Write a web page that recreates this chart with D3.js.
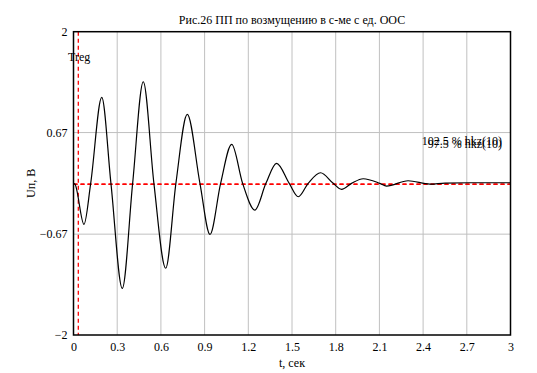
<!DOCTYPE html>
<html>
<head>
<meta charset="utf-8">
<script src="https://cdn.jsdelivr.net/npm/d3@7"></script>
<style>
  body { margin: 0; background: #fff; }
  svg text { font-family: 'Liberation Serif', 'DejaVu Serif', serif !important; font-size: 12px; }
</style>
</head>
<body>
<script>
// values: extrema and zero crossings of the response
const timeVals = [0, 0.01, 0.072, 0.118, 0.194, 0.257, 0.335, 0.406, 0.479, 0.552, 0.633, 0.703,
  0.781, 0.868, 0.937, 1.010, 1.086, 1.161, 1.245, 1.321, 1.394, 1.481, 1.543, 1.611,
  1.696, 1.783, 1.840, 1.909, 1.989, 2.103, 2.149, 2.297, 2.447, 2.55, 2.72, 3.0];
const uVals = [0, -0.01, -0.54, 0, 1.134, 0, -1.385, 0, 1.34, 0, -1.12, 0,
  0.91, 0, -0.673, 0, 0.514, 0, -0.352, 0, 0.264, 0, -0.177, 0,
  0.14, 0, -0.079, 0, 0.061, 0, -0.036, 0.034, -0.01, 0.004, 0.008, 0.008];

const xTicks = [0, 0.3, 0.6, 0.9, 1.2, 1.5, 1.8, 2.1, 2.4, 2.7, 3];
const yTicks = [-2, -0.67, 0.67, 2];
const yTickLabels = ["\u22122", "\u22120.67", "0.67", "2"];

const tReg = 0.033;
const bandVals = [-0.012, -0.012];          // 102.5 % and 97.5 % of hkz(10)
const bandLabels = ["102.5 % hkz(10)", "97.5 % hkz(10)"];

const W = 537, H = 373;
const m = {left: 73.5, right: 26.5, top: 31.7, bottom: 38};

const svg = d3.select("body").append("svg").attr("width", W).attr("height", H);

const x = d3.scaleLinear().domain([0, 3]).range([m.left, W - m.right]);
const y = d3.scaleLinear().domain([-2, 2]).range([H - m.bottom, m.top]);

// grid
svg.append("g").selectAll("line").data(xTicks.slice(1, -1)).join("line")
  .attr("x1", d => x(d)).attr("x2", d => x(d))
  .attr("y1", y(2)).attr("y2", y(-2))
  .attr("stroke", "#c0c0c0").attr("stroke-width", 1);
svg.append("g").selectAll("line").data(yTicks.slice(1, -1)).join("line")
  .attr("x1", x(0)).attr("x2", x(3))
  .attr("y1", d => y(d)).attr("y2", d => y(d))
  .attr("stroke", "#c0c0c0").attr("stroke-width", 1);

// axes (labels only, no tick marks)
const xAxis = svg.append("g").attr("transform", `translate(0,${y(-2)})`)
  .call(d3.axisBottom(x).tickValues(xTicks).tickSize(0).tickPadding(7).tickFormat(d3.format("")));
const yAxis = svg.append("g").attr("transform", `translate(${x(0)},0)`)
  .call(d3.axisLeft(y).tickValues(yTicks).tickSize(0).tickPadding(6).tickFormat((d, i) => yTickLabels[i]));
[xAxis, yAxis].forEach(a => {
  a.select(".domain").remove();
  a.attr("font-family", null).attr("font-size", null);
  a.selectAll("text").attr("fill", "#000");
});

// red dashed markers
svg.append("line")
  .attr("x1", x(tReg)).attr("x2", x(tReg)).attr("y1", y(2)).attr("y2", y(-2))
  .attr("stroke", "#ff0000").attr("stroke-width", 1.3).attr("stroke-dasharray", "4,3");
svg.append("g").selectAll("line").data(bandVals).join("line")
  .attr("x1", x(0)).attr("x2", x(3))
  .attr("y1", d => y(d)).attr("y2", d => y(d))
  .attr("stroke", "#ff0000").attr("stroke-width", 1.3).attr("stroke-dasharray", "4,3");

// response curve
const pts = timeVals.map((t, i) => [t, uVals[i]]);
svg.append("path").datum(pts)
  .attr("fill", "none").attr("stroke", "#000").attr("stroke-width", 1.2)
  .attr("d", d3.line().x(d => x(d[0])).y(d => y(d[1])).curve(d3.curveMonotoneX));

// frame
svg.append("rect")
  .attr("x", x(0)).attr("y", y(2)).attr("width", x(3) - x(0)).attr("height", y(-2) - y(2))
  .attr("fill", "none").attr("stroke", "#000").attr("stroke-width", 1.5);

// texts
svg.append("text").attr("x", 292).attr("y", 24).attr("text-anchor", "middle")
  .text("Рис.26 ПП по возмущению в с-ме с ед. ООС");
svg.append("text").attr("x", x((0 + 3) / 2)).attr("y", 367).attr("text-anchor", "middle")
  .text("t, сек");
svg.append("text").attr("transform", `translate(35,${y(0)}) rotate(-90)`).attr("text-anchor", "middle")
  .text("Uп, В");
svg.append("text").attr("x", 68).attr("y", 61).text("Treg");
svg.selectAll(".band").data(bandLabels).join("text")
  .attr("x", 502).attr("y", (d, i) => 145 + i * 3).attr("text-anchor", "end")
  .text(d => d);
</script>
</body>
</html>
